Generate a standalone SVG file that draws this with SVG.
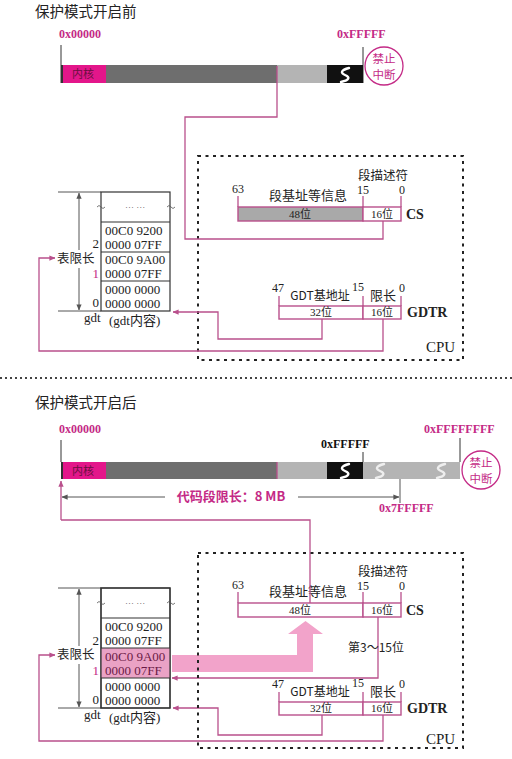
<svg xmlns="http://www.w3.org/2000/svg" width="512" height="759" viewBox="0 0 512 759">
<style>
.t{font-family:'Liberation Serif','Noto Sans CJK SC',serif;fill:#222}
.cj{font-family:'Noto Sans CJK SC','Liberation Serif',sans-serif;fill:#222}
.mg{fill:#c42a86}
.hex{font-family:'Liberation Serif',serif;font-weight:bold;font-size:12px;fill:#c42a86}
.ln{fill:none;stroke:#b9508c;stroke-width:1.3}
.gl{fill:none;stroke:#555;stroke-width:1}
.reg{stroke:#b9508c;stroke-width:1.4}
.cpu{fill:none;stroke:#222;stroke-width:2;stroke-dasharray:3 4.5}
.cell{font-family:'Liberation Serif',serif;font-size:13px;fill:#222}
.sm{font-size:11px}
.S{fill:none;stroke:#fff;stroke-width:2.4;stroke-linecap:round}
.Sl{fill:none;stroke:#eee;stroke-width:2.4;stroke-linecap:round}
</style>
<defs>
<marker id="ah" viewBox="0 0 8 8" refX="7.5" refY="4" markerWidth="6" markerHeight="6" orient="auto-start-reverse" markerUnits="userSpaceOnUse"><path d="M0 0.5 L8 4 L0 7.5 Z" fill="#b9508c"/></marker>
<marker id="ag" viewBox="0 0 8 8" refX="7.5" refY="4" markerWidth="6" markerHeight="6" orient="auto-start-reverse" markerUnits="userSpaceOnUse"><path d="M0 0.5 L8 4 L0 7.5 Z" fill="#555"/></marker>
</defs>
<rect width="512" height="759" fill="#fff"/>

<!-- ================= TOP SECTION ================= -->
<text class="cj" x="35" y="17" font-size="14.5">保护模式开启前</text>

<g id="mem1">
<text class="hex" x="59" y="38">0x00000</text>
<text class="hex" x="337" y="38">0xFFFFF</text>
<line x1="61" y1="45" x2="61" y2="83" stroke="#333" stroke-width="1"/>
<line x1="363" y1="47" x2="363" y2="83" stroke="#333" stroke-width="1"/>
<rect x="106" y="65" width="171" height="18" fill="#6e6e6e"/>
<rect x="277" y="65" width="50" height="18" fill="#b4b4b4"/>
<rect x="327" y="65" width="36" height="18" fill="#111"/>
<rect x="61" y="65" width="45" height="18" fill="#e3168a"/>
<line x1="62" y1="65" x2="62" y2="83" stroke="#333" stroke-width="2"/>
<text class="cj" x="83" y="78" font-size="11" text-anchor="middle" style="fill:#6a1040">内核</text>
<path class="S" d="M349 68 C341 70 340 73 345 75 C350 77 350 80 341 82"/>
<circle cx="384" cy="66" r="19" fill="#fff" stroke="#c42a86" stroke-width="1.3"/>
<text class="cj mg" x="384" y="63" font-size="11.5" text-anchor="middle">禁止</text>
<text class="cj mg" x="384" y="79" font-size="11.5" text-anchor="middle">中断</text>
</g>

<g id="gdt1">
<line x1="58" y1="192" x2="101" y2="192" class="gl" stroke="#9a6a88"/>
<line x1="58" y1="311" x2="101" y2="311" class="gl" stroke="#9a6a88"/>
<line x1="79" y1="193" x2="79" y2="250" class="gl" marker-start="url(#ag)"/>
<line x1="79" y1="268" x2="79" y2="310" class="gl" marker-end="url(#ag)"/>
<text class="cj" x="57" y="263" font-size="12.5">表限长</text>
<rect x="101" y="192" width="69" height="119" fill="#fff" stroke="#333" stroke-width="1.2"/>
<line x1="101" y1="222" x2="170" y2="222" stroke="#333" stroke-width="1.2"/>
<line x1="101" y1="252" x2="170" y2="252" stroke="#333" stroke-width="1.2"/>
<line x1="101" y1="281" x2="170" y2="281" stroke="#333" stroke-width="1.2"/>
<path d="M97 207 q2 -3 4 0 t4 0" fill="none" stroke="#555" stroke-width="0.8"/>
<path d="M167 207 q2 -3 4 0 t4 0" fill="none" stroke="#555" stroke-width="0.8"/>
<text class="t" x="135" y="208" font-size="9" text-anchor="middle" style="fill:#555">… …</text>
<text class="cell" x="105" y="235">00C0 9200</text>
<text class="cell" x="105" y="249">0000 07FF</text>
<text class="cell" x="105" y="264">00C0 9A00</text>
<text class="cell" x="105" y="278">0000 07FF</text>
<text class="cell" x="105" y="294">0000 0000</text>
<text class="cell" x="105" y="308">0000 0000</text>
<text class="cell" x="99" y="248" text-anchor="end">2</text>
<text class="cell" x="99" y="278" text-anchor="end" style="fill:#c42a86">1</text>
<text class="cell" x="99" y="307" text-anchor="end">0</text>
<text class="t" x="84" y="322" font-size="13">gdt</text>
<text class="t" x="109" y="325" font-size="13">(gdt内容)</text>
</g>

<g id="cs1">
<text class="cj" x="383" y="180" font-size="12.5" text-anchor="middle">段描述符</text>
<text class="t" x="238" y="193" font-size="12" text-anchor="middle">63</text>
<text class="t" x="363" y="194" font-size="12" text-anchor="middle">15</text>
<text class="t" x="402" y="194" font-size="12" text-anchor="middle">0</text>
<text class="cj" x="308" y="200" font-size="13" text-anchor="middle">段基址等信息</text>
<line x1="238" y1="196" x2="238" y2="207" class="ln"/>
<line x1="363" y1="196" x2="363" y2="207" class="ln"/>
<line x1="401" y1="196" x2="401" y2="207" class="ln"/>
<rect x="238" y="207" width="125" height="14" fill="#a9a9a9" class="reg"/>
<rect x="363" y="207" width="38" height="14" fill="#fff" class="reg"/>
<text class="t sm" x="300" y="218" text-anchor="middle">48位</text>
<text class="t sm" x="382" y="218" text-anchor="middle">16位</text>
<text class="t" x="406" y="219" font-size="14" font-weight="bold">CS</text>
</g>

<g id="gdtr1">
<text class="t" x="278" y="292" font-size="12" text-anchor="middle">47</text>
<text class="cj" x="320" y="300" font-size="12" text-anchor="middle">GDT基地址</text>
<text class="t" x="358" y="291" font-size="12" text-anchor="middle">15</text>
<text class="cj" x="383" y="300" font-size="13" text-anchor="middle">限长</text>
<text class="t" x="402" y="292" font-size="12" text-anchor="middle">0</text>
<line x1="279" y1="296" x2="279" y2="306" class="ln"/>
<line x1="363" y1="296" x2="363" y2="306" class="ln"/>
<line x1="401" y1="296" x2="401" y2="306" class="ln"/>
<rect x="279" y="306" width="84" height="13" fill="#fff" class="reg"/>
<rect x="363" y="306" width="38" height="13" fill="#fff" class="reg"/>
<text class="t sm" x="321" y="316" text-anchor="middle">32位</text>
<text class="t sm" x="382" y="316" text-anchor="middle">16位</text>
<text class="t" x="407" y="317" font-size="14" font-weight="bold">GDTR</text>
</g>

<g id="cpu1">
<rect x="198" y="156" width="265" height="204" class="cpu"/>
<text class="t" x="426" y="352" font-size="15">CPU</text>
</g>

<g id="connectors1">
<path class="ln" d="M277 66 V117 H185 V239 H383 V221"/>
<path class="ln" d="M322 319 V339 H218 V312 H173" marker-end="url(#ah)"/>
<path class="ln" d="M383 319 V351 H39 V258 H55" marker-end="url(#ah)"/>
</g>

<line x1="0" y1="378" x2="512" y2="378" stroke="#444" stroke-width="2" stroke-dasharray="2 3"/>

<!-- ================= BOTTOM SECTION ================= -->
<text class="cj" x="35" y="408" font-size="14.5">保护模式开启后</text>

<g id="mem2">
<text class="hex" x="59" y="433">0x00000</text>
<text class="hex" x="424" y="433">0xFFFFFFFF</text>
<text class="hex" x="321" y="448" style="fill:#111">0xFFFFF</text>
<line x1="61" y1="440" x2="61" y2="462" stroke="#333" stroke-width="1"/>
<line x1="363" y1="452" x2="363" y2="462" stroke="#333" stroke-width="1"/>
<line x1="460" y1="438" x2="460" y2="462" stroke="#333" stroke-width="1"/>
<rect x="106" y="462" width="171" height="17" fill="#6e6e6e"/>
<rect x="277" y="462" width="50" height="17" fill="#b4b4b4"/>
<rect x="327" y="462" width="36" height="17" fill="#111"/>
<rect x="363" y="462" width="97" height="17" fill="#b4b4b4"/>
<rect x="61" y="462" width="45" height="17" fill="#e3168a"/>
<line x1="62" y1="462" x2="62" y2="479" stroke="#333" stroke-width="2"/>
<line x1="277" y1="462" x2="277" y2="479" stroke="#b9508c" stroke-width="1.3"/>
<text class="cj" x="83" y="475" font-size="11" text-anchor="middle" style="fill:#6a1040">内核</text>
<path class="S" d="M349 464 C341 466 340 469 345 471 C350 473 350 476 341 478"/>
<path class="Sl" d="M384 464 C376 466 375 469 380 471 C385 473 385 476 376 478"/>
<path class="Sl" d="M445 464 C437 466 436 469 441 471 C446 473 446 476 437 478"/>
<circle cx="481" cy="470" r="19" fill="#fff" stroke="#c42a86" stroke-width="1.3"/>
<text class="cj mg" x="481" y="467" font-size="11.5" text-anchor="middle">禁止</text>
<text class="cj mg" x="481" y="483" font-size="11.5" text-anchor="middle">中断</text>
<line x1="400" y1="479" x2="400" y2="503" stroke="#555" stroke-width="1"/>
<line x1="165" y1="497" x2="62" y2="497" class="gl" marker-end="url(#ag)"/>
<line x1="298" y1="497" x2="399" y2="497" class="gl" marker-end="url(#ag)"/>
<text class="cj mg" x="231" y="501" font-size="13" font-weight="bold" text-anchor="middle">代码段限长：8 MB</text>
<text class="hex" x="379" y="512">0x7FFFFF</text>
</g>

<g id="arrow2">
<path d="M172 655 H297 V634 H288 L305.5 621 L323 634 H313 V672 H172 Z" fill="#f2a3ca"/>
</g>

<g id="gdt2">
<line x1="58" y1="588" x2="101" y2="588" class="gl" stroke="#9a6a88"/>
<line x1="58" y1="708" x2="101" y2="708" class="gl" stroke="#9a6a88"/>
<line x1="79" y1="589" x2="79" y2="646" class="gl" marker-start="url(#ag)"/>
<line x1="79" y1="664" x2="79" y2="707" class="gl" marker-end="url(#ag)"/>
<text class="cj" x="57" y="659" font-size="12.5">表限长</text>
<rect x="101" y="588" width="69" height="120" fill="#fff" stroke="#333" stroke-width="1.2"/>
<rect x="101" y="648" width="69" height="30" fill="#eaa2c5"/>
<line x1="101" y1="618" x2="170" y2="618" stroke="#333" stroke-width="1.2"/>
<line x1="101" y1="648" x2="170" y2="648" stroke="#333" stroke-width="1.2"/>
<line x1="101" y1="678" x2="170" y2="678" stroke="#333" stroke-width="1.2"/>
<rect x="101" y="588" width="69" height="120" fill="none" stroke="#333" stroke-width="1.2"/>
<path d="M97 603 q2 -3 4 0 t4 0" fill="none" stroke="#555" stroke-width="0.8"/>
<path d="M167 603 q2 -3 4 0 t4 0" fill="none" stroke="#555" stroke-width="0.8"/>
<text class="t" x="135" y="604" font-size="9" text-anchor="middle" style="fill:#555">… …</text>
<text class="cell" x="105" y="631">00C0 9200</text>
<text class="cell" x="105" y="645">0000 07FF</text>
<text class="cell" x="105" y="661" style="fill:#6a1a45">00C0 9A00</text>
<text class="cell" x="105" y="675" style="fill:#6a1a45">0000 07FF</text>
<text class="cell" x="105" y="691">0000 0000</text>
<text class="cell" x="105" y="705">0000 0000</text>
<text class="cell" x="99" y="645" text-anchor="end">2</text>
<text class="cell" x="99" y="675" text-anchor="end" style="fill:#c42a86">1</text>
<text class="cell" x="99" y="704" text-anchor="end">0</text>
<text class="t" x="84" y="719" font-size="13">gdt</text>
<text class="t" x="109" y="722" font-size="13">(gdt内容)</text>
</g>

<g id="cs2">
<text class="cj" x="383" y="576" font-size="12.5" text-anchor="middle">段描述符</text>
<text class="t" x="238" y="589" font-size="12" text-anchor="middle">63</text>
<text class="t" x="363" y="590" font-size="12" text-anchor="middle">15</text>
<text class="t" x="402" y="590" font-size="12" text-anchor="middle">0</text>
<text class="cj" x="308" y="596" font-size="13" text-anchor="middle">段基址等信息</text>
<line x1="238" y1="592" x2="238" y2="603" class="ln"/>
<line x1="363" y1="592" x2="363" y2="603" class="ln"/>
<line x1="401" y1="592" x2="401" y2="603" class="ln"/>
<rect x="238" y="603" width="125" height="14" fill="#fff" class="reg"/>
<rect x="363" y="603" width="38" height="14" fill="#fff" class="reg"/>
<text class="t sm" x="300" y="614" text-anchor="middle">48位</text>
<text class="t sm" x="382" y="614" text-anchor="middle">16位</text>
<text class="t" x="406" y="615" font-size="14" font-weight="bold">CS</text>
</g>

<g id="gdtr2">
<text class="t" x="278" y="688" font-size="12" text-anchor="middle">47</text>
<text class="cj" x="320" y="696" font-size="12" text-anchor="middle">GDT基地址</text>
<text class="t" x="358" y="687" font-size="12" text-anchor="middle">15</text>
<text class="cj" x="383" y="696" font-size="13" text-anchor="middle">限长</text>
<text class="t" x="402" y="688" font-size="12" text-anchor="middle">0</text>
<line x1="279" y1="692" x2="279" y2="702" class="ln"/>
<line x1="363" y1="692" x2="363" y2="702" class="ln"/>
<line x1="401" y1="692" x2="401" y2="702" class="ln"/>
<rect x="279" y="702" width="84" height="13" fill="#fff" class="reg"/>
<rect x="363" y="702" width="38" height="13" fill="#fff" class="reg"/>
<text class="t sm" x="321" y="712" text-anchor="middle">32位</text>
<text class="t sm" x="382" y="712" text-anchor="middle">16位</text>
<text class="t" x="407" y="713" font-size="14" font-weight="bold">GDTR</text>
</g>

<g id="connectors2">
<path class="ln" d="M61 520 V481" marker-end="url(#ah)"/>
<path class="ln" d="M61 520 H310 V603"/>
<path class="ln" d="M378 617 V678 H172" marker-end="url(#ah)"/>
<path class="ln" d="M322 715 V735 H218 V708 H173" marker-end="url(#ah)"/>
<path class="ln" d="M383 715 V741 H39 V655 H55" marker-end="url(#ah)"/>
<text class="cj" x="376" y="652" font-size="12" text-anchor="middle">第3～15位</text>
</g>

<g id="cpu2">
<rect x="198" y="553" width="265" height="195" class="cpu"/>
<text class="t" x="426" y="744" font-size="15">CPU</text>
</g>
</svg>
